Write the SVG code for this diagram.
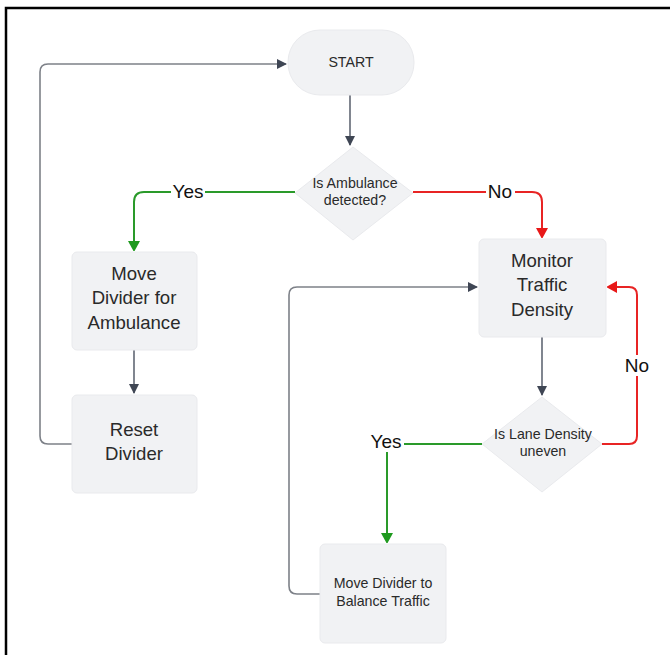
<svg xmlns="http://www.w3.org/2000/svg" width="670" height="655" viewBox="0 0 670 655">
<style>
.box{fill:#f1f2f4;stroke:#e9eaed;stroke-width:1}
.t{font-family:"Liberation Sans",Arial,sans-serif;fill:#2a2a2a;text-anchor:middle}
.s{font-size:14.2px}
.l{font-size:18.6px}
.g{fill:none;stroke:#7d8188;stroke-width:1.6}
.d{fill:none;stroke:#4b5260;stroke-width:1.4}
.gr{fill:none;stroke:#2a9a2a;stroke-width:2}
.rd{fill:none;stroke:#e82424;stroke-width:2}
.lab{font-family:"Liberation Sans",Arial,sans-serif;fill:#111;text-anchor:middle;font-size:19px}
</style>
<defs>
<marker id="ad" markerWidth="10" markerHeight="10" refX="9" refY="5" orient="auto" markerUnits="userSpaceOnUse"><path d="M0,0 L10,5 L0,10 Z" fill="#3f4654"/></marker>
<marker id="ag" markerWidth="10" markerHeight="12" refX="9" refY="6" orient="auto" markerUnits="userSpaceOnUse"><path d="M0,0 L11,6 L0,12 Z" fill="#1f9a1f"/></marker>
<marker id="ar" markerWidth="10" markerHeight="12" refX="9" refY="6" orient="auto" markerUnits="userSpaceOnUse"><path d="M0,0 L11,6 L0,12 Z" fill="#e81818"/></marker>
</defs>
<rect width="670" height="655" fill="#fff"/>
<rect x="6" y="8" width="720" height="720" fill="none" stroke="#000" stroke-width="2.5"/>
<g id="connectors">
<path class="g" d="M72,444 H48 Q40,444 40,436 V72 Q40,64 48,64 H286" marker-end="url(#ad)"/>
<path class="d" d="M350,95 V145" marker-end="url(#ad)"/>
<path class="gr" d="M295,192 H144 Q134,192 134,202 V250" marker-end="url(#ag)"/>
<path class="rd" d="M413,192 H532 Q542,192 542,202 V237" marker-end="url(#ar)"/>
<path class="d" d="M134,350 V393" marker-end="url(#ad)"/>
<path class="d" d="M542,337 V395" marker-end="url(#ad)"/>
<path class="rd" d="M602,444 H629 Q637,444 637,436 V295 Q637,287 629,287 H608" marker-end="url(#ar)"/>
<path class="gr" d="M482,444 H395 Q387,444 387,452 V542" marker-end="url(#ag)"/>
<path class="g" d="M320,594 H297 Q289,594 289,586 V295 Q289,287 297,287 H477" marker-end="url(#ad)"/>
<rect x="171" y="181" width="34" height="21" fill="#fff"/>
<text class="lab" x="188" y="198">Yes</text>
<rect x="486" y="181" width="29" height="21" fill="#fff"/>
<text class="lab" x="500" y="198">No</text>
<rect x="623" y="355" width="28" height="21" fill="#fff"/>
<text class="lab" x="637" y="372">No</text>
<rect x="368" y="431" width="36" height="21" fill="#fff"/>
<text class="lab" x="386" y="448">Yes</text>
</g>
<g id="start">
<rect class="box" x="288" y="30" width="126" height="65" rx="32"/>
<text class="t s" x="351" y="67">START</text>
</g>
<g id="ambulance-decision">
<polygon class="box" points="353,147 413,193 353,240 295,193"/>
<text class="t s" x="355" y="188">Is Ambulance</text>
<text class="t s" x="355" y="205">detected?</text>
</g>
<g id="move-divider-ambulance">
<rect class="box" x="72" y="252" width="125" height="98" rx="5"/>
<text class="t l" x="134" y="280">Move</text>
<text class="t l" x="134" y="304">Divider for</text>
<text class="t l" x="134" y="329">Ambulance</text>
</g>
<g id="reset-divider">
<rect class="box" x="72" y="395" width="125" height="98" rx="5"/>
<text class="t l" x="134" y="436">Reset</text>
<text class="t l" x="134" y="460">Divider</text>
</g>
<g id="monitor">
<rect class="box" x="479" y="239" width="127" height="98" rx="5"/>
<text class="t l" x="542" y="267">Monitor</text>
<text class="t l" x="542" y="291">Traffic</text>
<text class="t l" x="542" y="316">Density</text>
</g>
<g id="lane-decision">
<polygon class="box" points="542,397 602,444 542,492 482,444"/>
<text class="t s" x="543" y="439">Is Lane Density</text>
<text class="t s" x="543" y="456">uneven</text>
</g>
<g id="balance">
<rect class="box" x="320" y="544" width="126" height="99" rx="5"/>
<text class="t s" x="383" y="588">Move Divider to</text>
<text class="t s" x="383" y="606">Balance Traffic</text>
</g>
</svg>
